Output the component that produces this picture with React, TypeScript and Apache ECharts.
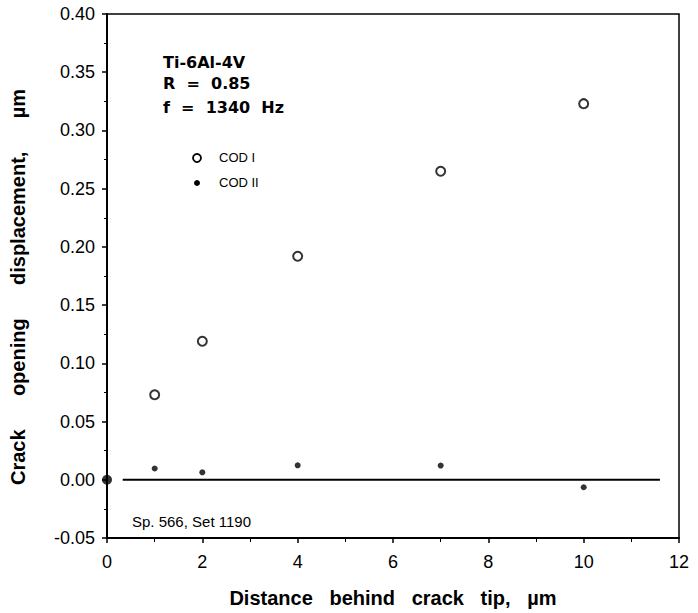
import React, { useEffect, useRef } from "react";
import * as echarts from "echarts";

const distance = [0, 1, 2, 4, 7, 10];
const codI = [0, 0.073, 0.119, 0.192, 0.265, 0.323];
const codII = [0, 0.0097, 0.0064, 0.0124, 0.0122, -0.0064];
const baselineX = [0.33, 11.6];
const baselineY = [0, 0];
const xTicks = { min: 0, max: 12, interval: 2 };
const yTicks = { min: -0.05, max: 0.4, interval: 0.05 };
const annotations = ["Ti-6Al-4V", "R  =  0.85", "f  =  1340  Hz"];
const legendNames = ["COD I", "COD II"];
const footnote = "Sp. 566, Set 1190";

const FONT = "'Liberation Sans', Arial, Helvetica, sans-serif";
const WIDE = "'DejaVu Sans', Verdana, sans-serif";

export default function App() {
  const ref = useRef<HTMLDivElement>(null);
  useEffect(() => {
    if (!ref.current) return;
    const chart = echarts.init(ref.current, null, { renderer: "svg" });
    const gridLeft = 102;
    const gridTop = 14;
    const gridRight = 698 - 679;
    const gridBottom = 613 - 541;
    const option: any = {
      animation: false,
      backgroundColor: "#fff",
      grid: {
        left: gridLeft,
        top: gridTop,
        right: gridRight,
        bottom: gridBottom,
        show: true,
        borderColor: "#000",
        borderWidth: 1.5,
        backgroundColor: "transparent",
      },
      xAxis: {
        type: "value",
        min: xTicks.min,
        max: xTicks.max,
        interval: xTicks.interval,
        name: "Distance   behind   crack   tip,   µm",
        nameLocation: "middle",
        nameGap: 50,
        nameTextStyle: { fontFamily: FONT, fontSize: 20, fontWeight: "bold", color: "#000" },
        axisLine: { onZero: false, lineStyle: { color: "#000", width: 2 } },
        axisTick: { show: true, inside: false, length: 5, lineStyle: { color: "#000", width: 1.5 } },
        minorTick: { show: true, splitNumber: 2, length: 4, lineStyle: { color: "#000", width: 1 } },
        splitLine: { show: false },
        axisLabel: { fontFamily: FONT, fontSize: 18, color: "#000", margin: 15 },
      },
      yAxis: {
        type: "value",
        min: yTicks.min,
        max: yTicks.max,
        interval: yTicks.interval,
        name: "Crack      opening      displacement,      µm",
        nameLocation: "middle",
        nameGap: 79,
        nameTextStyle: {
          fontFamily: FONT,
          fontSize: 20,
          fontWeight: "bold",
          color: "#000",
          padding: [0, 22, 0, 0],
        },
        axisLine: { onZero: false, lineStyle: { color: "#000", width: 2 } },
        axisTick: { show: true, inside: false, length: 5, lineStyle: { color: "#000", width: 1.5 } },
        minorTick: { show: true, splitNumber: 2, length: 3, lineStyle: { color: "#000", width: 1 } },
        splitLine: { show: false },
        axisLabel: {
          fontFamily: FONT,
          fontSize: 18,
          color: "#000",
          margin: 12,
          formatter: (v: number) => v.toFixed(2),
        },
      },
      series: [
        {
          name: "baseline",
          type: "line",
          data: baselineX.map((x, i) => [x, baselineY[i]]),
          symbol: "none",
          lineStyle: { color: "#000", width: 2 },
          z: 2,
        },
        {
          name: legendNames[0],
          type: "scatter",
          symbol: "emptyCircle",
          symbolSize: 9,
          itemStyle: { color: "#000", borderColor: "#000", borderWidth: 1.8 },
          data: distance
            .map((x, i) => [x, codI[i]])
            .filter((d) => d[0] !== 0),
          z: 3,
        },
        {
          name: legendNames[1],
          type: "scatter",
          symbol: "circle",
          symbolSize: 6,
          itemStyle: { color: "#000" },
          data: distance.map((x, i) =>
            x === 0 ? { value: [x, codII[i]], symbolSize: 10 } : [x, codII[i]]
          ),
          z: 4,
        },
      ],
      graphic: [
        ...annotations.map((t, i) => ({
          type: "text",
          left: 163,
          top: [54, 75, 99][i],
          style: {
            text: t,
            fontFamily: WIDE,
            fontSize: 16,
            fontWeight: "bold",
            fill: "#000",
          },
        })),
        {
          type: "circle",
          shape: { cx: 197, cy: 158, r: 4 },
          style: { fill: "#fff", stroke: "#000", lineWidth: 1.8 },
        },
        {
          type: "circle",
          shape: { cx: 197, cy: 183, r: 3 },
          style: { fill: "#000" },
        },
        ...legendNames.map((t, i) => ({
          type: "text",
          left: 219,
          top: [151, 176][i],
          style: { text: t, fontFamily: FONT, fontSize: 13, fill: "#000" },
        })),
        {
          type: "text",
          left: 132,
          top: 514,
          style: { text: footnote, fontFamily: FONT, fontSize: 15, fill: "#000" },
        },
      ],
    };
    chart.setOption(option);
    return () => chart.dispose();
  }, []);
  return (
    <div
      ref={ref}
      style={{ position: "fixed", left: 0, top: 0, width: 698, height: 613, background: "#fff" }}
    />
  );
}
